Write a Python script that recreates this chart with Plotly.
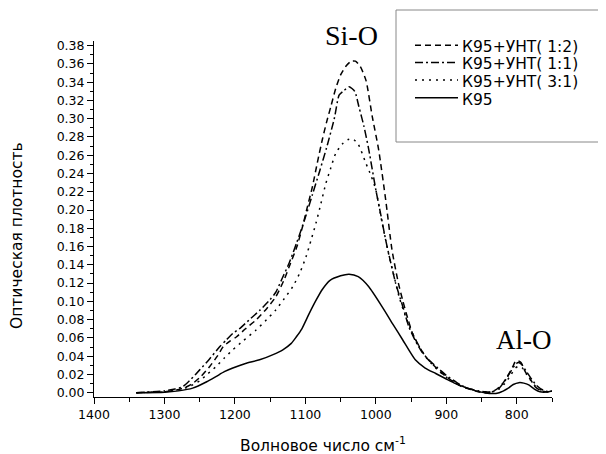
import plotly.graph_objects as go

# ---- data ----
x_k95 = [1340, 1300, 1280, 1260, 1240, 1227, 1215, 1203, 1185, 1165, 1145, 1132, 1120, 1113, 1105, 1095, 1085, 1076, 1065, 1050, 1038, 1025, 1010, 991, 975, 962, 944, 930, 915, 900, 887, 870, 858, 845, 835, 825, 812, 805, 797, 790, 783, 775, 767, 755, 750]
y_k95 = [0.0, 0.0005, 0.002, 0.005, 0.012, 0.0176, 0.023, 0.027, 0.032, 0.036, 0.042, 0.047, 0.054, 0.061, 0.070, 0.086, 0.101, 0.113, 0.123, 0.128, 0.1297, 0.127, 0.116, 0.094, 0.074, 0.058, 0.036, 0.027, 0.021, 0.015, 0.010, 0.005, 0.002, 0.0, -0.001, 0.0, 0.005, 0.009, 0.011, 0.0105, 0.0085, 0.004, 0.001, 0.001, 0.002]

x_12 = [1340, 1300, 1283, 1270, 1260, 1248, 1236, 1225, 1217, 1208, 1198, 1185, 1170, 1155, 1142, 1130, 1123, 1112, 1104, 1097, 1090, 1083, 1076, 1070, 1064, 1057, 1050, 1042, 1035, 1029, 1022, 1014, 1005, 996, 986, 977, 968, 962, 955, 948, 938, 929, 918, 906, 892, 878, 863, 849, 840, 830, 820, 811, 806, 802, 798, 794, 788, 781, 774, 765, 755, 750]
y_12 = [0.0, 0.001, 0.003, 0.006, 0.010, 0.018, 0.0285, 0.040, 0.050, 0.056, 0.061, 0.070, 0.0796, 0.092, 0.105, 0.124, 0.138, 0.160, 0.182, 0.204, 0.2256, 0.252, 0.277, 0.296, 0.313, 0.333, 0.348, 0.358, 0.363, 0.363, 0.357, 0.342, 0.302, 0.266, 0.211, 0.156, 0.120, 0.1015, 0.082, 0.065, 0.050, 0.039, 0.030, 0.021, 0.013, 0.0066, 0.003, 0.0, 0.0, 0.003, 0.010, 0.021, 0.028, 0.034, 0.035, 0.033, 0.023, 0.015, 0.0066, 0.002, 0.001, 0.002]

x_11 = [1340, 1300, 1285, 1274, 1262, 1250, 1236, 1222, 1212, 1203, 1192, 1180, 1165, 1150, 1142, 1133, 1123, 1112, 1100, 1090, 1080, 1070, 1059, 1052, 1045, 1038, 1030, 1024, 1017, 1010, 1000, 993, 986, 979, 972, 962, 953, 944, 935, 925, 912, 900, 885, 870, 855, 845, 835, 825, 815, 808, 802, 798, 793, 787, 780, 772, 763, 755, 750]
y_11 = [0.0, 0.002, 0.004, 0.0066, 0.015, 0.025, 0.037, 0.050, 0.058, 0.065, 0.071, 0.0796, 0.090, 0.102, 0.110, 0.125, 0.142, 0.165, 0.192, 0.217, 0.242, 0.268, 0.300, 0.326, 0.331, 0.335, 0.330, 0.313, 0.292, 0.266, 0.222, 0.195, 0.167, 0.143, 0.120, 0.095, 0.072, 0.057, 0.045, 0.036, 0.027, 0.019, 0.011, 0.005, 0.002, 0.001, 0.001, 0.005, 0.015, 0.024, 0.031, 0.033, 0.031, 0.024, 0.016, 0.008, 0.003, 0.001, 0.002]

x_31 = [1340, 1300, 1280, 1265, 1250, 1238, 1227, 1215, 1203, 1188, 1170, 1155, 1142, 1130, 1118, 1108, 1099, 1092, 1085, 1078, 1071, 1064, 1057, 1048, 1040, 1033, 1025, 1014, 1007, 1000, 991, 981, 974, 967, 958, 948, 938, 928, 915, 900, 885, 870, 855, 845, 835, 825, 815, 808, 802, 797, 792, 786, 780, 772, 763, 755, 750]
y_31 = [0.0, 0.001, 0.003, 0.0066, 0.013, 0.021, 0.0285, 0.038, 0.047, 0.057, 0.0687, 0.080, 0.0906, 0.103, 0.116, 0.131, 0.149, 0.167, 0.1855, 0.207, 0.229, 0.246, 0.262, 0.272, 0.277, 0.278, 0.272, 0.251, 0.238, 0.222, 0.1855, 0.149, 0.127, 0.105, 0.084, 0.065, 0.050, 0.038, 0.027, 0.017, 0.010, 0.005, 0.002, 0.001, 0.001, 0.004, 0.012, 0.020, 0.027, 0.029, 0.027, 0.020, 0.013, 0.006, 0.002, 0.001, 0.002]

series_names = ["К95+УНТ( 1:2)", "К95+УНТ( 1:1)", "К95+УНТ( 3:1)", "К95"]
y_ticks = [0.00, 0.02, 0.04, 0.06, 0.08, 0.10, 0.12, 0.14, 0.16, 0.18, 0.20,
           0.22, 0.24, 0.26, 0.28, 0.30, 0.32, 0.34, 0.36, 0.38]
x_ticks = [1400, 1300, 1200, 1100, 1000, 900, 800]
peak_labels = ["Si-O", "Al-O"]
peak_pos_x = [1034, 790]
x_title = "Волновое число см<sup>-1</sup>"
y_title = "Оптическая плотность"

FONT = "DejaVu Sans, Arial, sans-serif"
SERIF = "Liberation Serif, Times New Roman, serif"

# The page body adds an 8px offset; the figure is sized to fill the rest.
W, H = 598, 446
ML, MR, MT, MB = 86, 54, 33, 57
PW, PH = W - ML - MR, H - MT - MB


def px(page_x):
    return (page_x - 8 - ML) / PW


def py(page_y):
    return (H - MB - (page_y - 8)) / PH


dashes = ["6px,4px", "8px,3px,2px,3px", "2px,5px", "solid"]
series = [(x_12, y_12), (x_11, y_11), (x_31, y_31), (x_k95, y_k95)]

fig = go.Figure()
for (xs, ys), name, dash in zip(series, series_names, dashes):
    fig.add_trace(go.Scatter(
        x=xs, y=ys, mode="lines", name=name, showlegend=False,
        line=dict(color="black", width=1.5, dash=dash, shape="spline", smoothing=0.6),
    ))

# peak labels
fig.add_annotation(x=peak_pos_x[0], y=py(36), xref="x", yref="paper", text=peak_labels[0],
                   showarrow=False, xanchor="center", yanchor="middle",
                   font=dict(family=SERIF, size=28, color="black"))
fig.add_annotation(x=peak_pos_x[1], y=0.0577, xref="x", yref="y", text=peak_labels[1],
                   showarrow=False, xanchor="center", yanchor="middle",
                   font=dict(family=SERIF, size=27, color="black"))

# axis titles
fig.add_annotation(x=0.5, y=py(444), xref="paper", yref="paper", text=x_title,
                   showarrow=False, xanchor="center", yanchor="middle",
                   font=dict(family=FONT, size=15.5, color="black"))
fig.add_annotation(x=px(17), y=py(236), xref="paper", yref="paper", text=y_title,
                   showarrow=False, textangle=-90, xanchor="center", yanchor="middle",
                   font=dict(family=FONT, size=15.5, color="black"))

# legend box with line samples and texts
fig.add_shape(type="rect", xref="paper", yref="paper",
              x0=px(396), x1=px(604), y0=py(142), y1=py(10),
              line=dict(color="#888888", width=1), fillcolor="rgba(0,0,0,0)")
leg_line_y = [45.2, 62.5, 80, 97.7]
for name, dash, ly in zip(series_names, dashes, leg_line_y):
    fig.add_shape(type="line", xref="paper", yref="paper",
                  x0=px(415), x1=px(458), y0=py(ly), y1=py(ly),
                  line=dict(color="black", width=1.5, dash=dash))
    fig.add_annotation(x=px(460), y=py(ly + 1.8), xref="paper", yref="paper", text=name,
                       showarrow=False, xanchor="left", yanchor="middle",
                       font=dict(family=FONT, size=15.5, color="black"))

fig.update_layout(
    width=W, height=H,
    margin=dict(l=ML, r=MR, t=MT, b=MB, autoexpand=False),
    paper_bgcolor="white", plot_bgcolor="white",
    font=dict(family=FONT, size=13, color="black"),
    showlegend=False,
    xaxis=dict(
        range=[1400, 750], tickvals=x_ticks,
        showline=True, linecolor="black", linewidth=1,
        ticks="outside", ticklen=6, tickcolor="black",
        minor=dict(dtick=50, ticks="outside", ticklen=4, tickcolor="black"),
        showgrid=False, zeroline=False,
        tickfont=dict(family=FONT, size=12.5),
    ),
    yaxis=dict(
        range=[-0.0047, 0.3851], tickvals=y_ticks, tickformat=".2f",
        showline=True, linecolor="black", linewidth=1,
        ticks="outside", ticklen=6, tickcolor="black",
        minor=dict(dtick=0.01, tick0=0, ticks="outside", ticklen=3, tickcolor="black"),
        showgrid=False, zeroline=False,
        tickfont=dict(family=FONT, size=12.5),
    ),
)

fig.write_html("out.html")
